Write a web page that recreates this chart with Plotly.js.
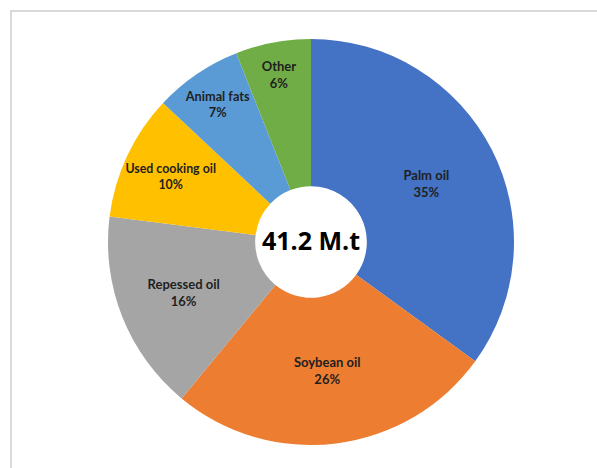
<!DOCTYPE html>
<html>
<head>
<meta charset="utf-8">
<script src="https://cdn.plot.ly/plotly-3.0.1.min.js"></script>
<style>
html,body{margin:0;padding:0;background:#fff;}
#chart{width:597px;height:468px;}
</style>
</head>
<body>
<div id="chart"></div>
<script>
const categories = ["Palm oil", "Soybean oil", "Repessed oil", "Used cooking oil", "Animal fats", "Other"];
const shares = [35, 26, 16, 10, 7, 6];
const sliceColors = ["#4472C4", "#ED7D31", "#A5A5A5", "#FFC000", "#5B9BD5", "#70AD47"];
const centerLabel = "41.2 M.t";

const W = 597, H = 468;
const cx = 311, cy = 242, R = 203;

const trace = {
  type: "pie",
  labels: categories,
  values: shares,
  sort: false,
  direction: "clockwise",
  rotation: 0,
  hole: 0.275,
  marker: {colors: sliceColors, line: {width: 0}},
  textinfo: "label+percent",
  textposition: "inside",
  insidetextorientation: "horizontal",
  insidetextfont: {family: "Lato, 'Liberation Sans', sans-serif", size: 13, color: "#1f1f1f", weight: "bold"},
  hoverinfo: "none",
  showlegend: false,
  domain: {
    x: [(cx - R) / W, (cx + R) / W],
    y: [(H - cy - R) / H, (H - cy + R) / H]
  },
  title: {
    text: centerLabel,
    position: "middle center",
    font: {family: "'Open Sans', 'Liberation Sans', sans-serif", size: 25, color: "#000", weight: "bold"}
  }
};

const layout = {
  width: W, height: H,
  margin: {l: 0, r: 0, t: 0, b: 0},
  paper_bgcolor: "#fff",
  plot_bgcolor: "#fff",
  shapes: [{
    type: "rect", xref: "paper", yref: "paper",
    x0: 11 / W, x1: 1.2, y0: -0.2, y1: (H - 11) / H,
    line: {color: "#d9d9d9", width: 2}, fillcolor: "rgba(0,0,0,0)", layer: "below"
  }]
};

Plotly.newPlot("chart", [trace], layout, {displayModeBar: false, staticPlot: true});
</script>
</body>
</html>
